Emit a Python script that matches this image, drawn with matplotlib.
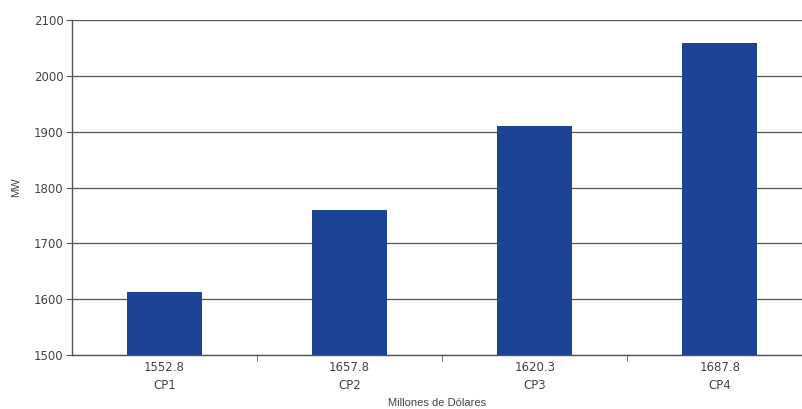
import matplotlib
import matplotlib.pyplot as plt

matplotlib.use("Agg")

# capacity by plan, with investment (millions USD) shown under each
plans = ["CP1", "CP2", "CP3", "CP4"]
cost_musd = ["1552.8", "1657.8", "1620.3", "1687.8"]
capacity_mw = [1612, 1760, 1911, 2058]

fig = plt.figure(figsize=(8.02, 4.09), dpi=100)
ax = fig.add_axes([0.0898, 0.132, 0.923, 0.819])

x = range(len(plans))
ax.bar(x, capacity_mw, width=0.405, color="#1d4494", zorder=3)

ax.set_xlim(-0.5, 3.5)
ax.set_ylim(1500, 2100)
ax.set_yticks(range(1500, 2101, 100))
ax.yaxis.grid(True, color="#555555", linewidth=0.9, zorder=0)

ax.set_xticks(list(x))
ax.set_xticklabels([f"{c}\n{p}" for c, p in zip(cost_musd, plans)],
                   fontsize=8.5, color="#444444", linespacing=1.55)
ax.set_xticks([0.5, 1.5, 2.5], minor=True)
ax.tick_params(axis="x", which="major", length=0, pad=4)
ax.tick_params(axis="x", which="minor", length=4, direction="out", color="#555555")
ax.tick_params(axis="y", labelsize=8.5, labelcolor="#444444", length=4, color="#555555", pad=2)

for side in ("top", "right"):
    ax.spines[side].set_visible(False)
for side in ("left", "bottom"):
    ax.spines[side].set_color("#555555")
    ax.spines[side].set_linewidth(1.0)

ax.set_ylabel("MW", fontsize=8, color="#444444", family="Liberation Sans", labelpad=9)
ax.set_xlabel("Millones de Dólares", fontsize=8, color="#444444", family="Liberation Sans")
ax.xaxis.set_label_coords(0.493, -0.128)

fig.savefig("out.png", dpi=100)
